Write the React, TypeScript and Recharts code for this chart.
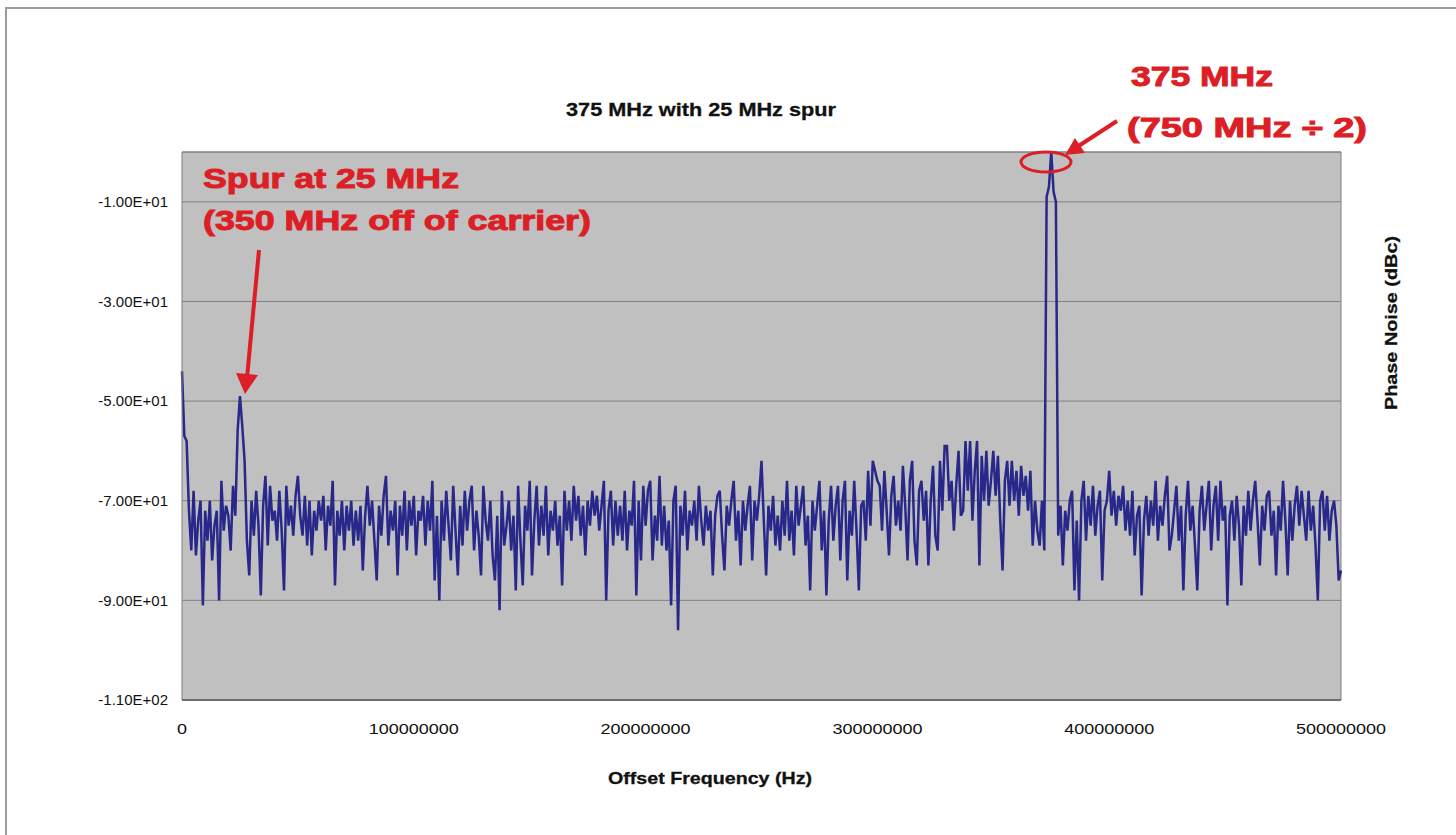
import React from "react";
import { LineChart, Line, XAxis, YAxis, CartesianGrid, ReferenceLine } from "recharts";

const FONT = '"Liberation Sans", Arial, sans-serif';
const RED = "#dc1f26";

const freqTicks = [0, 100000000, 200000000, 300000000, 400000000, 500000000];
const freqTickLabels = ["0", "100000000", "200000000", "300000000", "400000000", "500000000"];
const dbcTicks = [-110, -90, -70, -50, -30, -10];
const dbcTickLabels = ["-1.10E+02", "-9.00E+01", "-7.00E+01", "-5.00E+01", "-3.00E+01", "-1.00E+01"];

// one sample per MHz, 0 .. 500 MHz (dBc)
const FREQ_STEP_HZ = 1000000;
const phaseNoise = [
  -44, -57, -58, -72, -80, -68, -81, -74, -70, -91, -72, -78, -70, -82, -75, -72, -90, -66, -76, -71,
  -73, -80, -67, -73, -56, -49, -55, -62, -78, -85, -70, -77, -68, -75, -89, -71, -65, -79, -67, -74,
  -72, -78, -68, -76, -88, -67, -75, -71, -77, -69, -65, -73, -77, -69, -79, -70, -81, -72, -76, -70,
  -74, -69, -80, -71, -75, -66, -87, -72, -77, -70, -80, -71, -76, -70, -79, -72, -78, -71, -84, -73,
  -67, -75, -70, -78, -86, -71, -77, -69, -65, -79, -72, -76, -70, -85, -71, -77, -68, -80, -70, -75,
  -69, -81, -72, -74, -69, -79, -70, -76, -66, -86, -73, -90, -70, -78, -68, -75, -82, -67, -76, -85,
  -71, -79, -68, -76, -70, -67, -80, -72, -77, -85, -67, -74, -78, -70, -81, -86, -73, -92, -68, -79,
  -75, -70, -80, -73, -88, -67, -78, -87, -71, -76, -66, -85, -74, -67, -79, -71, -77, -67, -81, -72,
  -76, -70, -79, -73, -87, -68, -76, -70, -78, -67, -74, -69, -77, -71, -81, -70, -75, -68, -73, -69,
  -76, -71, -66, -90, -72, -68, -79, -70, -77, -71, -78, -68, -80, -72, -75, -66, -89, -70, -82, -67,
  -75, -68, -66, -82, -73, -78, -65, -79, -71, -80, -74, -91, -70, -67, -96, -71, -77, -68, -80, -72,
  -75, -70, -78, -67, -74, -79, -71, -76, -72, -85, -73, -69, -68, -77, -84, -71, -75, -70, -66, -78,
  -72, -83, -70, -76, -71, -67, -82, -70, -74, -69, -62, -74, -85, -71, -76, -69, -79, -73, -80, -70,
  -77, -66, -78, -72, -81, -67, -75, -71, -67, -79, -73, -88, -70, -76, -71, -66, -80, -72, -89, -74,
  -67, -78, -71, -67, -82, -70, -66, -86, -72, -77, -66, -76, -88, -71, -70, -78, -64, -75, -62, -64,
  -66, -67, -76, -64, -72, -81, -69, -65, -75, -70, -76, -63, -71, -82, -66, -62, -78, -83, -68, -66,
  -74, -68, -83, -70, -63, -77, -80, -62, -72, -59, -59, -70, -66, -76, -67, -60, -73, -72, -58, -68,
  -58, -74, -64, -58, -83, -61, -70, -60, -71, -66, -60, -69, -61, -74, -84, -66, -62, -71, -62, -70,
  -64, -73, -63, -69, -65, -72, -64, -79, -70, -76, -79, -70, -80, -9, -7, 0, -8, -10, -77, -71,
  -83, -72, -76, -70, -68, -88, -74, -90, -70, -66, -78, -69, -75, -67, -77, -71, -68, -86, -72, -70,
  -64, -73, -68, -75, -69, -72, -67, -76, -70, -77, -68, -81, -73, -71, -89, -74, -69, -77, -70, -75,
  -66, -78, -71, -75, -69, -65, -80, -77, -72, -67, -78, -71, -88, -73, -66, -76, -71, -79, -88, -72,
  -67, -76, -71, -66, -80, -71, -67, -78, -66, -74, -71, -91, -73, -70, -78, -69, -75, -87, -71, -77,
  -68, -76, -70, -66, -74, -83, -71, -76, -69, -68, -77, -72, -85, -71, -76, -66, -74, -85, -70, -78,
  -71, -67, -75, -68, -73, -78, -68, -76, -71, -79, -90, -70, -68, -76, -69, -78, -72, -70, -75, -86,
  -84,
];

const chartData = phaseNoise.map((v, i) => ({ f: i * FREQ_STEP_HZ, v }));

function FreqTick({ x, y, payload }: any) {
  const label = freqTickLabels[freqTicks.indexOf(payload.value)];
  return (
    <g transform={`translate(${x},${y})`}>
      <text transform="scale(1.2,1)" textAnchor="middle" dy="0.71em" fontSize={15} fontFamily={FONT} fill="#111">
        {label}
      </text>
    </g>
  );
}

function DbcTick({ x, y, payload }: any) {
  const label = dbcTickLabels[dbcTicks.indexOf(payload.value)];
  return (
    <g transform={`translate(${x},${y})`}>
      <text textAnchor="end" dy="0.355em" fontSize={15} fontFamily={FONT} fill="#111">
        {label}
      </text>
    </g>
  );
}

export default function App() {
  return (
    <div style={{ position: "absolute", left: 0, top: 0, width: 1456, height: 835, background: "#fff", overflow: "hidden" }}>
      <div
        style={{
          position: "absolute",
          left: 5,
          top: 7,
          right: 0,
          bottom: 0,
          borderTop: "2px solid #9c9c9c",
          borderLeft: "2px solid #9c9c9c",
        }}
      />
      <div style={{ position: "absolute", left: 0, top: 0 }}>
        <LineChart width={1456} height={835} data={chartData} margin={{ top: 152, right: 115, bottom: 75, left: 82 }}>
          <CartesianGrid vertical={false} stroke="#808080" fill="#c0c0c0" fillOpacity={1} />
          <XAxis
            type="number"
            dataKey="f"
            domain={[0, 500000000]}
            ticks={freqTicks}
            interval={0}
            height={60}
            tick={FreqTick}
            tickLine={false}
            tickSize={0}
            tickMargin={23}
            axisLine={{ stroke: "#6e6e6e", strokeWidth: 2 }}
          />
          <YAxis
            type="number"
            domain={[-110, 0]}
            ticks={dbcTicks}
            interval={0}
            width={100}
            tick={DbcTick}
            tickLine={false}
            tickSize={0}
            tickMargin={14}
            axisLine={{ stroke: "#808080" }}
          />
          <ReferenceLine y={0} stroke="#808080" />
          <ReferenceLine x={500000000} stroke="#808080" />
          <Line type="linear" dataKey="v" stroke="#28288a" strokeWidth={2.5} dot={false} isAnimationActive={false} />
        </LineChart>
      </div>
      <svg width={1456} height={835} style={{ position: "absolute", left: 0, top: 0, pointerEvents: "none" }} fontFamily={FONT}>
        <text x={566} y={116} textLength={270} lengthAdjust="spacingAndGlyphs" fontSize={18} fontWeight="bold" fill="#111" stroke="#111" strokeWidth={0.3}>
          375 MHz with 25 MHz spur
        </text>
        <text x={608} y={784} textLength={204} lengthAdjust="spacingAndGlyphs" fontSize={17} fontWeight="bold" fill="#111" stroke="#111" strokeWidth={0.3}>
          Offset Frequency (Hz)
        </text>
        <text transform="translate(1397,323) rotate(-90)" textAnchor="middle" textLength={174} lengthAdjust="spacingAndGlyphs" fontSize={17} fontWeight="bold" fill="#111" stroke="#111" strokeWidth={0.3}>
          Phase Noise (dBc)
        </text>

        <g fontSize={28} fontWeight="bold" fill={RED} stroke={RED} strokeWidth={1}>
          <text x={203} y={188} textLength={256} lengthAdjust="spacingAndGlyphs">
            Spur at 25 MHz
          </text>
          <text x={203} y={230} textLength={388} lengthAdjust="spacingAndGlyphs">
            (350 MHz off of carrier)
          </text>
          <text x={1131} y={86} textLength={142} lengthAdjust="spacingAndGlyphs">
            375 MHz
          </text>
          <text x={1127} y={137} textLength={240} lengthAdjust="spacingAndGlyphs">
            (750 MHz ÷ 2)
          </text>
        </g>
        <line x1={259} y1={250} x2={247} y2={378} stroke={RED} strokeWidth={4} />
        <polygon points="245,394 258,375 236,373" fill={RED} />
        <ellipse cx={1046} cy={162} rx={25} ry={10} fill="none" stroke={RED} strokeWidth={3} />
        <line x1={1117} y1={121} x2={1077} y2={147} stroke={RED} strokeWidth={4} />
        <polygon points="1065,155 1085,153 1075,138" fill={RED} />
      </svg>
    </div>
  );
}
